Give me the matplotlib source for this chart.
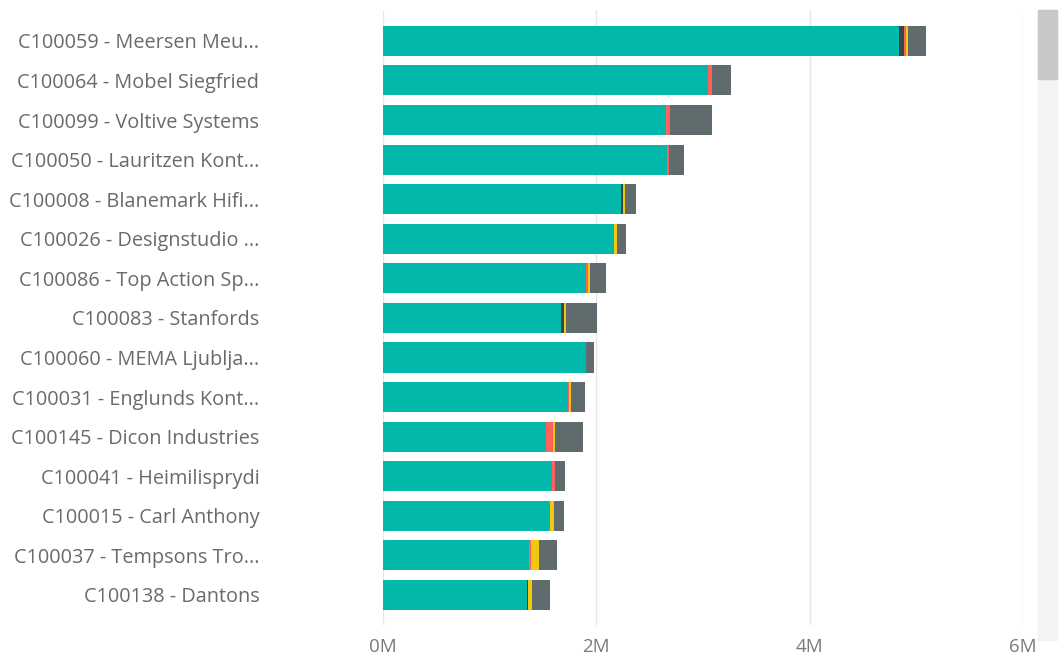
import matplotlib
import numpy as np

matplotlib.use("Agg")
import matplotlib.pyplot as plt
from matplotlib.patches import Rectangle

customers = [
    "C100059 - Meersen Meu...",
    "C100064 - Mobel Siegfried",
    "C100099 - Voltive Systems",
    "C100050 - Lauritzen Kont...",
    "C100008 - Blanemark Hifi...",
    "C100026 - Designstudio ...",
    "C100086 - Top Action Sp...",
    "C100083 - Stanfords",
    "C100060 - MEMA Ljublja...",
    "C100031 - Englunds Kont...",
    "C100145 - Dicon Industries",
    "C100041 - Heimilisprydi",
    "C100015 - Carl Anthony",
    "C100037 - Tempsons Tro...",
    "C100138 - Dantons",
]

# values in millions, one list per stacked series
teal = [4.84, 3.05, 2.65, 2.66, 2.23, 2.17, 1.90, 1.67, 1.90, 1.73, 1.53, 1.58, 1.57, 1.37, 1.35]
dark = [0.04, 0.00, 0.00, 0.00, 0.02, 0.00, 0.00, 0.03, 0.00, 0.00, 0.00, 0.00, 0.00, 0.00, 0.01]
red = [0.02, 0.03, 0.045, 0.02, 0.00, 0.00, 0.02, 0.00, 0.00, 0.01, 0.065, 0.03, 0.00, 0.02, 0.00]
yellow = [0.02, 0.00, 0.00, 0.00, 0.02, 0.025, 0.02, 0.02, 0.00, 0.02, 0.02, 0.00, 0.03, 0.075, 0.035]
gray = [0.17, 0.18, 0.39, 0.14, 0.10, 0.085, 0.15, 0.29, 0.075, 0.13, 0.26, 0.10, 0.095, 0.17, 0.17]

series = [
    (teal, "#01B8AA"),
    (dark, "#374649"),
    (red, "#FD625E"),
    (yellow, "#F2C80F"),
    (gray, "#5F6B6D"),
]
x_ticks = [0, 2, 4, 6]
x_tick_labels = ["0M", "2M", "4M", "6M"]

plt.rcParams["font.family"] = ["Open Sans", "DejaVu Sans"]

W, H = 1064, 658
fig = plt.figure(figsize=(W / 100, H / 100), dpi=100)
ax = fig.add_axes([383 / W, 1 - 625 / H, (1023 - 383) / W, (625 - 10) / H])

y = np.arange(len(customers))
left = np.zeros(len(customers))
for values, color in series:
    values = np.array(values)
    ax.barh(y, values, left=left, height=0.76, color=color, linewidth=0, zorder=2)
    left += values

ax.set_xlim(0, 6)
ax.set_ylim(len(customers) - 1 + 0.76, -0.78)
ax.set_xticks(x_ticks)
ax.set_xticklabels(x_tick_labels)
ax.set_yticks(y)
ax.set_yticklabels(customers)
ax.grid(axis="x", color="#e6e6e6", linewidth=1, zorder=0)
for spine in ax.spines.values():
    spine.set_visible(False)
ax.tick_params(axis="y", length=0, pad=89, labelsize=14.3, labelcolor="#6a6a6a")
ax.tick_params(axis="x", length=0, pad=9, labelsize=13.5, labelcolor="#7a7a7a")

# scrollbar on the right
fig.patches.append(Rectangle((1038 / W, 1 - 640 / H), 19 / W, 630 / H,
                             transform=fig.transFigure, color="#f3f3f3", zorder=0))
fig.patches.append(Rectangle((1038 / W, 1 - 79 / H), 19 / W, 69 / H,
                             transform=fig.transFigure, color="#c8c8c8", zorder=1))

fig.savefig("out.png", dpi=100)
plt.close(fig)
